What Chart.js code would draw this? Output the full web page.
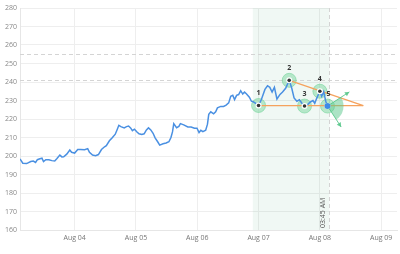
<!DOCTYPE html>
<html><head><meta charset="utf-8">
<script src="https://cdn.jsdelivr.net/npm/chart.js@4"></script>
<style>html,body{margin:0;padding:0;background:#fff;overflow:hidden}#wrap{width:400px;height:254px;overflow:hidden}</style>
</head><body><div id="wrap"><canvas id="c" width="405" height="254"></canvas></div>
<script>
// hours since Aug 03 00:00
const hours = [2.6,3.7,5.2,6.8,7.8,8.7,9.4,10.4,11.2,11.8,12.7,13.9,15.1,16.2,17.0,18.2,19.0,19.7,20.9,22.1,22.8,24.0,25.2,26.3,27.9,29.1,29.8,31.0,32.2,33.3,34.5,35.7,36.4,37.6,38.8,39.9,40.7,41.3,42.1,43.4,44.3,45.1,45.9,46.6,47.4,48.4,49.2,50.3,51.2,52.1,52.9,53.8,54.7,55.5,56.5,57.3,58.6,59.8,60.9,61.7,62.3,62.8,63.9,64.8,65.4,66.7,68.3,69.6,70.9,71.9,72.7,73.4,74.2,75.3,76.0,76.5,77.3,78.4,79.2,79.9,81.2,82.3,83.3,84.3,85.1,85.9,86.6,87.4,88.2,89.0,89.8,90.5,91.3,92.4,93.2,93.9,95.2,96.0,97.1,98.5,99.5,100.4,101.3,102.2,103.2,104.4,105.4,106.6,108.0,109.0,109.9,111.0,112.0,112.9,114.0,115.3,116.3,117.3,118.0,118.8,120.0,120.7,121.5,122.3,123.0];
const prices = [198.4,196.1,195.9,197.0,197.3,196.5,198.0,198.5,198.8,197.0,198.0,198.0,197.5,197.3,198.5,200.5,199.5,199.6,201.0,203.2,202.0,201.6,203.5,203.5,203.4,204.0,202.0,200.5,200.2,200.8,203.5,205.0,205.6,208.2,210.0,211.8,214.5,216.6,215.9,215.2,215.9,216.2,215.2,213.7,214.5,213.0,212.0,211.6,212.0,214.1,215.2,214.1,212.3,209.8,207.7,205.9,206.6,207.0,207.7,210.0,213.0,217.5,215.3,216.0,217.5,216.8,215.7,215.7,215.0,215.0,212.7,213.9,213.2,213.9,217.2,222.5,223.9,222.8,223.9,226.0,226.8,226.8,227.5,228.7,232.3,232.8,230.5,232.8,233.2,235.3,233.5,234.6,233.5,231.8,229.6,229.3,228.2,227.3,230.5,236.0,238.0,237.1,234.6,237.1,230.8,233.3,234.6,236.6,240.9,236.6,231.4,229.6,230.4,228.7,227.0,227.9,229.2,230.0,228.5,231.3,235.0,232.3,234.8,229.6,227.0];
const patternHours = [96, 108, 114, 120, 123];
const patternValues = [227.3, 240.9, 227.0, 235.0, 227.0];
const patternLabels = ['1','2','3','4','5'];
const apexHour = 137, apexValue = 227.2;
const levels = [255, 241];
const dayTicks = [24, 48, 72, 96, 120, 144];
const dayLabels = ['Aug 04','Aug 05','Aug 06','Aug 07','Aug 08','Aug 09'];
const zoneStart = 93.75, markerHour = 123.75, markerLabel = '03:45 AM';

const FONT = "'Open Sans', 'Liberation Sans', sans-serif";
const lineData = hours.map((h,i)=>({x:h,y:prices[i]}));
const patData = patternHours.map((h,i)=>({x:h,y:patternValues[i]}));

const overlay = {
  id:'overlay',
  beforeDatasetsDraw(chart){
    const {ctx, chartArea:a, scales:{x,y}} = chart;
    ctx.save();
    ctx.fillStyle='rgba(60,170,110,0.08)';
    const x0=x.getPixelForValue(zoneStart), x1=x.getPixelForValue(markerHour);
    ctx.fillRect(x0,a.top,x1-x0,a.bottom-a.top);
    ctx.strokeStyle='#d4d4d4'; ctx.lineWidth=1; ctx.setLineDash([4,3]);
    levels.forEach(v=>{const py=Math.round(y.getPixelForValue(v))+0.5;ctx.beginPath();ctx.moveTo(a.left,py);ctx.lineTo(a.right,py);ctx.stroke();});
    ctx.beginPath();ctx.moveTo(Math.round(x1)+0.5,a.top);ctx.lineTo(Math.round(x1)+0.5,a.bottom);ctx.stroke();
    ctx.setLineDash([]);
    ctx.translate(x1-3,a.bottom-2);ctx.rotate(-Math.PI/2);
    ctx.fillStyle='#555';ctx.font='7px '+FONT;ctx.textAlign='left';ctx.textBaseline='bottom';
    ctx.fillText(markerLabel,0,0);
    ctx.restore();
  },
  afterDatasetsDraw(chart){
    const {ctx, scales:{x,y}} = chart;
    ctx.save();
    const cx=x.getPixelForValue(patternHours[4]), cy=y.getPixelForValue(patternValues[4]);
    const a1=-33*Math.PI/180, a2=57*Math.PI/180;
    ctx.fillStyle='rgba(90,200,140,0.5)';
    ctx.beginPath();ctx.moveTo(cx,cy);ctx.arc(cx,cy,16,a1,a2);ctx.closePath();ctx.fill();
    ctx.strokeStyle='rgba(90,200,140,0.9)';ctx.fillStyle='rgba(90,200,140,0.9)';ctx.lineWidth=1;
    [[a1,26],[a2,25]].forEach(([ang,len])=>{
      const ex=cx+Math.cos(ang)*len, ey=cy+Math.sin(ang)*len;
      ctx.beginPath();ctx.moveTo(cx,cy);ctx.lineTo(ex,ey);ctx.stroke();
      ctx.beginPath();ctx.moveTo(ex,ey);
      ctx.lineTo(ex-Math.cos(ang-0.5)*5,ey-Math.sin(ang-0.5)*5);
      ctx.lineTo(ex-Math.cos(ang+0.5)*5,ey-Math.sin(ang+0.5)*5);ctx.closePath();ctx.fill();
    });
    patData.forEach((p,i)=>{
      const px=x.getPixelForValue(p.x), py=y.getPixelForValue(p.y);
      ctx.fillStyle='#fff';ctx.beginPath();ctx.arc(px,py,3,0,Math.PI*2);ctx.fill();
      ctx.fillStyle = i===4 ? '#3d8be6' : '#333';
      ctx.beginPath();ctx.arc(px,py,i===4?3:1.8,0,Math.PI*2);ctx.fill();
      ctx.fillStyle='#333';ctx.font='bold 7px '+FONT;ctx.textAlign='center';ctx.textBaseline='middle';
      ctx.fillText(patternLabels[i],px+(i===4?1:0),py-12);
    });
    ctx.restore();
  }
};

new Chart(document.getElementById('c'),{
  type:'line',
  data:{datasets:[
    {data:patData,showLine:false,pointRadius:7,pointHoverRadius:7,pointBackgroundColor:'rgba(110,210,150,0.45)',pointBorderColor:'rgba(110,210,150,0.55)',pointBorderWidth:1,order:3},
    {data:[{x:patternHours[0],y:apexValue},{x:apexHour,y:apexValue}],borderColor:'#f5a25d',borderWidth:1.3,pointRadius:0,order:2},
    {data:[{x:patternHours[1],y:patternValues[1]},{x:apexHour,y:apexValue}],borderColor:'#f5a25d',borderWidth:1.3,pointRadius:0,order:2},
    {data:lineData,borderColor:'#4a90e2',borderWidth:1.5,pointRadius:0,tension:0,order:1}
  ]},
  options:{
    responsive:false,animation:false,
    layout:{padding:{top:3,right:0,left:0,bottom:0}},
    plugins:{legend:{display:false},tooltip:{enabled:false}},
    scales:{
      x:{type:'linear',min:2.6,max:150.2,
        afterBuildTicks(s){s.ticks=dayTicks.map(v=>({value:v}));},
        afterFit(s){s.height=24;s.paddingLeft=0;s.paddingRight=0;},
        grid:{color:'#eeeeee',drawTicks:false},border:{color:'#e6e6e6'},
        ticks:{padding:4,font:{size:7,family:FONT},color:'#777',maxRotation:0,autoSkip:false,
          callback(v){const i=dayTicks.indexOf(v);return i>=0?dayLabels[i]:'';}}},
      y:{min:160,max:280,
        afterFit(s){s.width=20;},
        grid:{color:'#eeeeee',drawTicks:false},border:{color:'#e6e6e6'},
        ticks:{stepSize:10,padding:3,font:{size:7,family:FONT},color:'#888'}}
    }
  },
  plugins:[overlay]
});
</script></body></html>
